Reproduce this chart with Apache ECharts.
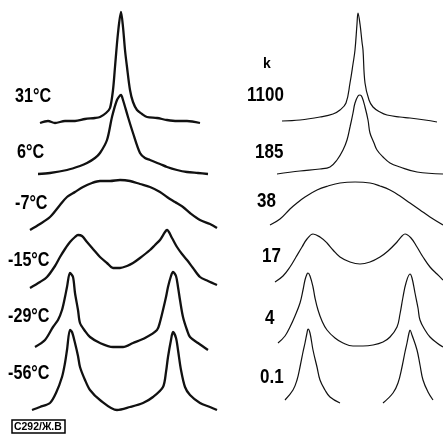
<!DOCTYPE html>
<html><head><meta charset="utf-8">
<script src="https://cdn.jsdelivr.net/npm/echarts@6/dist/echarts.min.js"></script>
<style>html,body{margin:0;padding:0;background:#fff}#c{width:443px;height:435px}</style>
</head><body><div id="c"></div>
<script>
// Left panel: observed spectra, [frequency offset, intensity]
const tempLabels = ['31°C', '6°C', '-7°C', '-15°C', '-29°C', '-56°C'];
const obs31 = [[-80,0],[-72,2],[-65,0],[-55,2],[-45,2],[-35,4],[-25,5],[-20,6],[-14,10],[-10,15],[-7,33],[-5,56],[-2,90],[1,111],[3,96],[5,73],[7,56],[10,33],[13,21],[17,13],[22,9],[27,6],[37,5],[47,3],[57,2],[67,2],[80,0]];
const obs6 = [[-82,0],[-70,1],[-53,4],[-40,8],[-33,11],[-25,16],[-20,21],[-13,34],[-8,57],[-3,74],[1,79],[3,74],[8,57],[13,41],[20,21],[25,16],[30,14],[40,10],[47,7],[57,4],[67,2],[78,1],[88,0]];
const obsM7 = [[-90,0],[-80,6],[-70,13],[-60,25],[-53,33],[-45,38],[-37,43],[-28,47],[-20,49],[-10,49],[0,50],[10,49],[20,46],[30,43],[40,38],[47,33],[55,28],[63,23],[70,17],[80,10],[90,6],[97,2]];
const obsM15 = [[-90,0],[-80,6],[-73,11],[-65,22],[-60,31],[-55,39],[-50,46],[-45,51],[-42,53],[-38,52],[-33,46],[-27,39],[-20,31],[-13,25],[-7,20],[0,20],[7,22],[13,25],[20,30],[30,38],[35,43],[40,48],[45,56],[47,58],[52,50],[57,41],[62,34],[67,28],[73,20],[80,11],[88,7],[97,3]];
const obsM29 = [[-85,3],[-75,10],[-67,23],[-62,30],[-58,40],[-55,53],[-53,63],[-50,77],[-47,73],[-45,57],[-42,40],[-40,27],[-35,19],[-30,13],[-20,7],[-7,3],[3,3],[13,7],[25,12],[37,20],[40,28],[43,40],[46,53],[48,63],[51,74],[53,78],[56,74],[58,63],[60,50],[63,33],[67,20],[70,13],[78,7],[88,0]];
const obsM56 = [[-88,0],[-80,3],[-70,7],[-64,17],[-58,33],[-55,47],[-53,60],[-50,80],[-48,78],[-45,67],[-42,54],[-40,43],[-35,30],[-30,20],[-20,10],[-3,0],[10,3],[23,7],[33,13],[43,23],[46,38],[48,53],[51,70],[53,78],[56,72],[58,60],[61,40],[65,23],[70,15],[80,7],[90,3],[97,0]];

// Right panel: calculated spectra for rate constants k
const kHeader = 'k';
const kLabels = ['1100', '185', '38', '17', '4', '0.1'];
const calc1100 = [[-76,1],[-58,2],[-38,5],[-25,8],[-18,12],[-12,19],[-8,39],[-5,58],[-3,72],[-1,98],[0,109],[2,98],[4,80],[5,72],[7,39],[11,22],[15,15],[22,10],[29,7],[42,5],[52,4],[67,2],[79,0]];
const calc185 = [[-81,0],[-58,3],[-38,5],[-28,7],[-21,14],[-15,24],[-11,34],[-8,47],[-5,61],[-3,71],[0,78],[2,79],[4,77],[7,67],[10,54],[12,41],[16,31],[19,24],[25,17],[32,11],[42,7],[59,2],[85,0]];
const calc38 = [[-88,0],[-78,6],[-68,16],[-61,22],[-53,28],[-41,35],[-30,39],[-18,42],[-3,43],[12,42],[22,39],[32,35],[42,29],[52,22],[62,15],[72,8],[85,0]];
const calc17 = [[-83,0],[-75,6],[-68,15],[-62,25],[-56,35],[-51,43],[-45,48],[-38,45],[-31,39],[-25,32],[-18,25],[-8,20],[2,18],[12,20],[22,25],[30,31],[39,40],[44,46],[47,48],[53,44],[59,35],[65,25],[72,15],[79,8],[85,2]];
const calc4 = [[-80,4],[-73,11],[-68,20],[-63,31],[-58,44],[-55,57],[-53,67],[-51,73],[-50,74],[-48,71],[-45,60],[-43,49],[-40,37],[-36,26],[-31,17],[-23,9],[-15,4],[-5,1],[5,1],[15,2],[25,5],[32,10],[39,20],[42,33],[45,50],[48,64],[52,73],[54,69],[57,54],[60,39],[62,27],[67,17],[72,10],[79,4],[85,0]];
const calc01 = [[-73,3],[-65,13],[-61,23],[-58,36],[-55,51],[-53,60],[-51,70],[-50,74],[-48,70],[-45,53],[-41,36],[-38,23],[-33,13],[-28,6],[-18,0],[0,null],[25,0],[35,10],[40,20],[44,36],[47,51],[49,60],[51,70],[52,73],[54,68],[59,53],[62,38],[65,23],[70,11],[75,3]];

const obsTraces = [obs31, obs6, obsM7, obsM15, obsM29, obsM56];
const calcTraces = [calc1100, calc185, calc38, calc17, calc4, calc01];
// vertical stacking offsets of each trace's baseline
const obsOffsets = [312, 261, 205, 147, 85, 25];
const calcOffsets = [313, 261, 210, 153, 88, 32];
const obsLabelY = [96, 152, 203, 260, 316, 373];
const obsLabelX = [15, 17, 15, 8, 8, 8];
const calcLabelY = [95, 152, 201, 256, 318, 377];
const calcLabelX = [247, 255, 257, 262, 265, 260];

const shift = (arr, off) => arr.map(p => [p[0], p[1] === null ? null : p[1] + off]);
const series = [];
obsTraces.forEach((t, i) => series.push({
  type: 'line', xAxisIndex: 0, yAxisIndex: 0, data: shift(t, obsOffsets[i]),
  showSymbol: false, smooth: 0.3, connectNulls: false, silent: true,
  lineStyle: { color: '#111', width: 2.3 }
}));
calcTraces.forEach((t, i) => series.push({
  type: 'line', xAxisIndex: 1, yAxisIndex: 1, data: shift(t, calcOffsets[i]),
  showSymbol: false, smooth: 0.4, connectNulls: false, silent: true,
  lineStyle: { color: '#111', width: 1.2 }
}));

const labelFont = 'bold 21px "Liberation Sans", Arial, sans-serif';
const boldFont = 'bold 20px "Liberation Sans", Arial, sans-serif';
const graphics = [];
tempLabels.forEach((s, i) => graphics.push({
  type: 'text', x: obsLabelX[i], y: obsLabelY[i], scaleX: 0.77,
  style: { text: s, font: labelFont, fill: '#000', verticalAlign: 'middle', textVerticalAlign: 'middle' }
}));
kLabels.forEach((s, i) => graphics.push({
  type: 'text', x: calcLabelX[i], y: calcLabelY[i], scaleX: 0.85,
  style: { text: s, font: boldFont, fill: '#000', verticalAlign: 'middle', textVerticalAlign: 'middle' }
}));
graphics.push({ type: 'text', x: 263, y: 64,
  style: { text: kHeader, font: 'bold 14px "Liberation Sans", sans-serif', fill: '#000', verticalAlign: 'middle', textVerticalAlign: 'middle' } });
graphics.push({ type: 'rect', shape: { x: 12, y: 420, width: 53, height: 13 },
  style: { fill: 'none', stroke: '#000', lineWidth: 1.5 } });
graphics.push({ type: 'text', x: 14, y: 427, scaleX: 0.95,
  style: { text: 'C292/Ж.B', font: 'bold 11px "Liberation Sans", sans-serif', fill: '#000', verticalAlign: 'middle', textVerticalAlign: 'middle' } });

const chart = echarts.init(document.getElementById('c'), null, { renderer: 'canvas' });
chart.setOption({
  backgroundColor: '#fff',
  animation: false,
  grid: [
    { left: 0, top: 0, width: 236, height: 435 },
    { left: 236, top: 0, width: 207, height: 435 }
  ],
  xAxis: [
    { type: 'value', gridIndex: 0, min: -120, max: 116, show: false },
    { type: 'value', gridIndex: 1, min: -122, max: 85, show: false }
  ],
  yAxis: [
    { type: 'value', gridIndex: 0, min: 0, max: 435, show: false },
    { type: 'value', gridIndex: 1, min: 0, max: 435, show: false }
  ],
  series: series,
  graphic: graphics
});
</script></body></html>
